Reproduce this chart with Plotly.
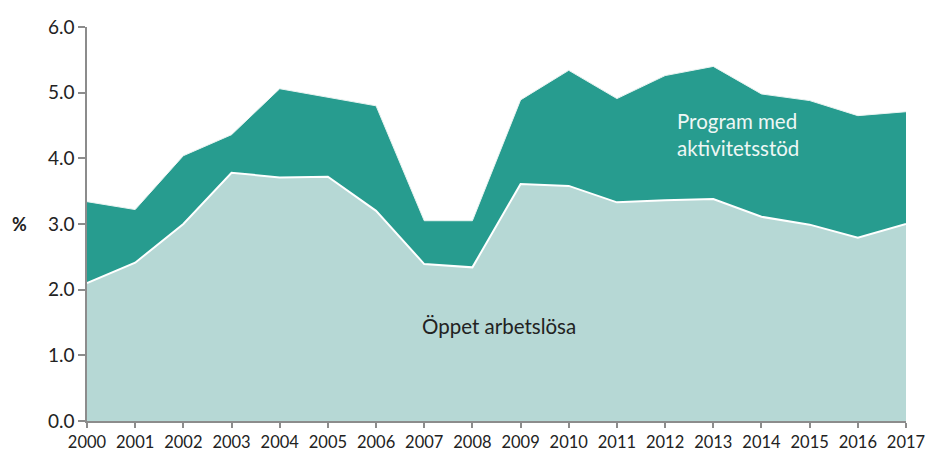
import plotly.graph_objects as go

years = list(range(2000, 2018))
oppet = [2.10, 2.41, 3.00, 3.78, 3.71, 3.72, 3.20, 2.39, 2.34, 3.61, 3.58, 3.33, 3.36, 3.38, 3.11, 2.99, 2.79, 3.00]
total = [3.34, 3.22, 4.04, 4.36, 5.06, 4.93, 4.80, 3.05, 3.05, 4.89, 5.34, 4.91, 5.26, 5.40, 4.98, 4.88, 4.65, 4.71]
program = [round(t - o, 2) for t, o in zip(total, oppet)]
yticks = [0, 1, 2, 3, 4, 5, 6]
ytick_labels = ["0.0", "1.0", "2.0", "3.0", "4.0", "5.0", "6.0"]

FONT = "Lato, 'Open Sans', sans-serif"
AX = "#8c8c8c"

fig = go.Figure()
fig.add_trace(go.Scatter(
    x=years, y=oppet, stackgroup="s", mode="lines",
    line=dict(color="white", width=2), fillcolor="#b6d8d5",
    name="Öppet arbetslösa", hoverinfo="x+y"))
fig.add_trace(go.Scatter(
    x=years, y=program, stackgroup="s", mode="lines",
    line=dict(color="#e9f3f1", width=1), fillcolor="#279c8f",
    name="Program med aktivitetsstöd", hoverinfo="x+y"))

fig.add_annotation(x=2008.55, y=1.45, text="Öppet arbetslösa", showarrow=False,
                   xanchor="center", yanchor="middle",
                   font=dict(family=FONT, size=20.5, color="#222222"))
fig.add_annotation(x=2012.2, y=4.36, text="Program med<br>aktivitetsstöd", showarrow=False,
                   xanchor="left", yanchor="middle", align="left",
                   font=dict(family=FONT, size=20.5, color="#eef7f5"))
fig.add_annotation(xref="paper", yref="paper", x=-0.083, y=0.5, text="<b>%</b>", showarrow=False,
                   xanchor="center", yanchor="middle",
                   font=dict(family=FONT, size=18, color="#222222"))

fig.update_layout(
    width=926, height=451,
    margin=dict(l=87, r=20, t=27, b=30, autoexpand=False),
    paper_bgcolor="white", plot_bgcolor="white",
    showlegend=False,
    font=dict(family=FONT, size=16, color="#222222"),
    xaxis=dict(range=[2000, 2017], tickvals=years, ticktext=[str(y) for y in years],
               showgrid=False, zeroline=False, showline=True, linecolor=AX, linewidth=1.5,
               ticks="outside", ticklen=5, tickcolor=AX, tickwidth=1.5, automargin=False,
               tickfont=dict(size=16.5)),
    yaxis=dict(range=[0, 6], tickvals=yticks, ticktext=ytick_labels,
               showgrid=False, zeroline=False, showline=True, linecolor=AX, linewidth=1.5,
               ticks="outside", ticklen=7, tickcolor=AX, tickwidth=1.5, automargin=False,
               tickfont=dict(size=19)),
)

fig.write_html("out.html", config={"displayModeBar": False},
               post_script="document.body.style.margin='0';document.body.style.overflow='hidden';")
